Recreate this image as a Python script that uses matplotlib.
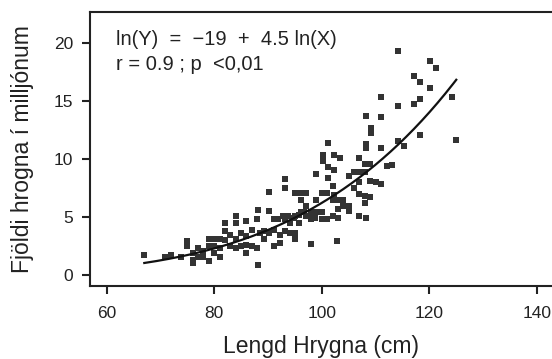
import numpy as np
import matplotlib
matplotlib.use("Agg")
import matplotlib.pyplot as plt

plt.rcParams['font.family'] = ['Liberation Sans', 'DejaVu Sans']

# Length of spawning fish (cm) and number of eggs (millions)
lengd = [67, 70.9, 71.9, 73.9, 75, 75, 76, 76, 76, 77, 77, 78, 78, 79, 79, 79, 80, 80, 80, 81,
         81, 81, 82, 82, 82, 83, 83, 84, 84, 84, 84, 85, 85, 86, 86, 86, 86, 87, 87, 88,
         88, 88.1, 88.1, 88.6, 89.2, 89.2, 90.2, 90.2, 90.2, 91.2, 91.2, 91.2, 91.8, 92.2, 92.2, 92.8, 93.1, 93.1, 93.1, 93.1,
         93.8, 94.1, 94.1, 94.8, 95.1, 95.1, 95.1, 95.1, 95.7, 95.7, 96.1, 96.1, 96.1, 96.7, 97.1, 97.1, 97.1, 97.7, 98, 98,
         98, 98.7, 99, 99, 99, 100, 100, 100, 100.2, 100.2, 101, 101, 101.2, 101.2, 101.2, 102, 102, 102, 102.2, 102.2,
         102.2, 102.9, 103, 103, 103, 103.3, 104, 104, 105, 105, 105.1, 106, 106, 107, 107, 107, 107, 107, 108, 108,
         108, 108, 108.2, 108.2, 108.2, 108.2, 109, 109, 109, 109.2, 109.2, 110, 111.1, 111.1, 111.1, 111.1, 112.1, 113.1, 114.2, 114.2,
         114.2, 115.2, 117.2, 117.2, 118.2, 118.2, 118.2, 120.1, 120.1, 121.2, 124.2, 125]
hrogn = [1.7, 1.6, 1.75, 1.6, 2.9, 2.5, 1.05, 1.3, 1.9, 2.3, 1.6, 2.05, 1.6, 2.5, 3.1, 1.2, 3.1, 1.9, 2.5, 3.1,
         2.3, 1.6, 4.45, 3.8, 3.05, 3.5, 2.5, 5.1, 4.45, 3.1, 2.3, 3.6, 2.5, 3.35, 2.6, 1.9, 4.65, 3.9, 2.5, 4.8,
         2.3, 0.84, 5.6, 3.6, 3.1, 3.8, 7.2, 5.5, 3.6, 4.8, 2.5, 3.9, 4.8, 3.5, 2.75, 5.1, 8.3, 7.5, 3.8, 4.8,
         5.1, 4.5, 3.6, 4.9, 3.6, 3.1, 5.1, 7.1, 5.2, 4.5, 5.4, 6.5, 7.1, 5.4, 5.1, 7.1, 6.0, 5.1, 2.7, 5.4,
         4.8, 4.9, 8.7, 5.4, 6.5, 5.4, 4.8, 7.1, 10.35, 9.85, 4.8, 7.1, 11.4, 9.3, 8.4, 7.7, 6.5, 5.1, 10.4, 9.1,
         6.9, 2.9, 6.5, 5.7, 4.9, 10.1, 6.5, 6.0, 6.0, 5.5, 8.55, 7.5, 8.85, 10.06, 7.0, 8.0, 8.85, 5.1, 6.8, 6.2,
         8.85, 9.6, 13.75, 11.3, 11.0, 4.9, 6.7, 8.1, 9.6, 12.7, 12.3, 8.0, 15.35, 13.6, 11.0, 7.9, 9.4, 9.5, 19.3, 14.6,
         11.6, 11.15, 17.2, 14.8, 16.7, 15.2, 12.1, 18.5, 16.1, 17.9, 15.4, 11.65]

# fitted curve ln(Y) = a + b ln(X)
fit_a = -18.71
fit_b = 4.46
fit_x = np.linspace(67, 125, 200)
fit_y = np.exp(fit_a + fit_b * np.log(fit_x))

fig = plt.figure(figsize=(5.52, 3.59), dpi=100)
ax = fig.add_axes([0.163, 0.2047, 0.837, 0.762])

ax.scatter(lengd, hrogn, marker='s', s=19, color='#333333', linewidths=0)
ax.plot(fit_x, fit_y, color='#111111', lw=1.6)

ax.set_xlim(56.9, 142.8)
ax.set_ylim(-0.9, 22.7)
ax.set_xticks([60, 80, 100, 120, 140])
ax.set_yticks([0, 5, 10, 15, 20])
ax.tick_params(direction='out', length=6, width=1.5, labelsize=12.5, colors='#222222')
ax.tick_params(axis='y', pad=6)
ax.tick_params(axis='x', pad=9)
for side in ['left', 'bottom', 'top']:
    ax.spines[side].set_linewidth(1.5)
    ax.spines[side].set_color('#222222')
ax.spines['right'].set_visible(False)

ax.set_xlabel('Lengd Hrygna (cm)', fontsize=16.5, color='#222222', labelpad=10)
ax.set_ylabel('Fjöldi hrogna í milljónum', fontsize=16.5, color='#222222', labelpad=14)

ax.text(61.7, 19.85, 'ln(Y)  =  \u221219  +  4.5 ln(X)', fontsize=14.5, va='baseline', color='#222222')
ax.text(61.7, 17.65, 'r = 0.9 ; p  <0,01', fontsize=14.5, va='baseline', color='#222222')

fig.savefig('out.png', dpi=100)
